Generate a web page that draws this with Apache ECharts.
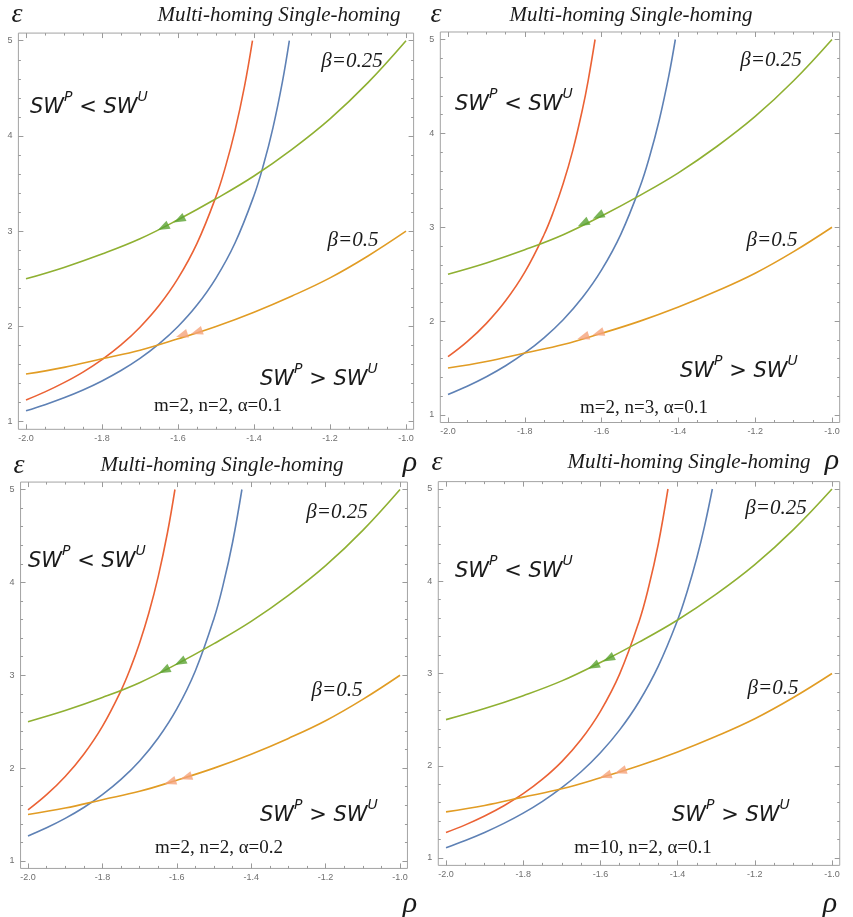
<!DOCTYPE html>
<html><head><meta charset="utf-8">
<script src="https://cdn.jsdelivr.net/npm/echarts@6/dist/echarts.min.js"></script>
<style>html,body{margin:0;padding:0;background:#fff}#c{width:853px;height:917px}</style>
</head><body><div id="c"></div>
<script>
// ---------------- data ----------------
const betaX    = [-2.0,-1.9,-1.8,-1.7,-1.6,-1.5,-1.4,-1.3,-1.2,-1.1,-1.0];
const beta025Y = [2.50,2.62,2.76,2.92,3.12,3.34,3.58,3.86,4.18,4.56,5.00];
const beta05Y  = [1.50,1.57,1.66,1.75,1.87,2.00,2.15,2.32,2.51,2.74,3.00];

// panel 1: m=2, n=2, alpha=0.1
const p1RedX  = [-2.0,-1.95,-1.9,-1.85,-1.8,-1.75,-1.7,-1.65,-1.6,-1.55,-1.5,-1.475,-1.45,-1.425,-1.404];
const p1RedY  = [1.228,1.313,1.410,1.521,1.652,1.806,1.992,2.219,2.504,2.872,3.364,3.678,4.056,4.520,5.000];
const p1BlueX = [-2.0,-1.95,-1.9,-1.85,-1.8,-1.75,-1.7,-1.65,-1.6,-1.55,-1.5,-1.45,-1.4,-1.375,-1.35,-1.325,-1.307];
const p1BlueY = [1.115,1.179,1.251,1.333,1.428,1.537,1.664,1.816,1.999,2.224,2.508,2.876,3.375,3.697,4.088,4.573,5.000];
const p1ArrGX = [-1.639,-1.597], p1ArrGY = [3.04,3.12];
const p1ArrOX = [-1.590,-1.551], p1ArrOY = [1.91,1.94];

// panel 2: m=2, n=3, alpha=0.1
const p2RedX  = [-2.0,-1.95,-1.9,-1.85,-1.8,-1.75,-1.725,-1.7,-1.675,-1.65,-1.635,-1.617];
const p2RedY  = [1.621,1.781,1.976,2.216,2.521,2.920,3.170,3.465,3.819,4.253,4.563,5.000];
const p2BlueX = [-2.0,-1.95,-1.9,-1.85,-1.8,-1.75,-1.7,-1.65,-1.6,-1.55,-1.5,-1.475,-1.45,-1.425,-1.408];
const p2BlueY = [1.219,1.307,1.408,1.525,1.661,1.822,2.015,2.251,2.546,2.925,3.431,3.753,4.140,4.613,5.000];
const p2ArrGX = [-1.648,-1.609], p2ArrGY = [3.04,3.12];
const p2ArrOX = [-1.648,-1.609], p2ArrOY = [1.83,1.87];

// panel 3: m=2, n=2, alpha=0.2
const p3RedX  = [-2.0,-1.95,-1.9,-1.85,-1.8,-1.75,-1.725,-1.7,-1.675,-1.65,-1.625,-1.605];
const p3RedY  = [1.550,1.714,1.910,2.150,2.450,2.835,3.071,3.347,3.672,4.062,4.537,5.000];
const p3BlueX = [-2.0,-1.95,-1.9,-1.85,-1.8,-1.75,-1.7,-1.65,-1.6,-1.55,-1.5,-1.475,-1.45,-1.425];
const p3BlueY = [1.270,1.358,1.459,1.576,1.714,1.878,2.077,2.324,2.637,3.049,3.612,3.981,4.432,5.000];
const p3ArrGX = [-1.634,-1.591], p3ArrGY = [3.05,3.14];
const p3ArrOX = [-1.618,-1.575], p3ArrOY = [1.85,1.90];

// panel 4: m=10, n=2, alpha=0.1
const p4RedX  = [-2.0,-1.95,-1.9,-1.85,-1.8,-1.75,-1.7,-1.65,-1.6,-1.55,-1.5,-1.475,-1.45,-1.425];
const p4RedY  = [1.277,1.359,1.455,1.566,1.697,1.854,2.045,2.284,2.590,2.996,3.562,3.937,4.404,5.000];
const p4BlueX = [-2.0,-1.95,-1.9,-1.85,-1.8,-1.75,-1.7,-1.65,-1.6,-1.55,-1.5,-1.45,-1.4,-1.375,-1.35,-1.33,-1.31];
const p4BlueY = [1.112,1.190,1.277,1.375,1.486,1.614,1.762,1.935,2.141,2.389,2.694,3.080,3.580,3.892,4.258,4.601,5.000];
const p4ArrGX = [-1.618,-1.579], p4ArrGY = [3.08,3.16];
const p4ArrOX = [-1.587,-1.548], p4ArrOY = [1.89,1.94];

const paramLabels = ['m=2, n=2, α=0.1','m=2, n=3, α=0.1','m=2, n=2, α=0.2','m=10, n=2, α=0.1'];
const headerText = 'Multi-homing Single-homing';
const beta1Label = 'β=0.25', beta2Label = 'β=0.5';
const xAxisName = 'ρ', yAxisName = 'ε';

// ---------------- layout ----------------
const panels = [
  {box:[26,406,40.7,421.7], red:[p1RedX,p1RedY], blue:[p1BlueX,p1BlueY], ag:[p1ArrGX,p1ArrGY], ao:[p1ArrOX,p1ArrOY],
   eps:[17,15], head:[279,15], b25:[352,61], b05:[353,240], lt:[30,104], gt:[260,376], par:[218,406], rho:[410,463]},
  {box:[448,832,39.5,415], red:[p2RedX,p2RedY], blue:[p2BlueX,p2BlueY], ag:[p2ArrGX,p2ArrGY], ao:[p2ArrOX,p2ArrOY],
   eps:[436,15], head:[631,15], b25:[771,60], b05:[772,240], lt:[455,101], gt:[680,368], par:[644,408], rho:[832,461]},
  {box:[28,400,489.5,861], red:[p3RedX,p3RedY], blue:[p3BlueX,p3BlueY], ag:[p3ArrGX,p3ArrGY], ao:[p3ArrOX,p3ArrOY],
   eps:[19,466], head:[222,465], b25:[337,512], b05:[337,690], lt:[28,558], gt:[260,812], par:[219,848], rho:[410,904]},
  {box:[446,832,489,858], red:[p4RedX,p4RedY], blue:[p4BlueX,p4BlueY], ag:[p4ArrGX,p4ArrGY], ao:[p4ArrOX,p4ArrOY],
   eps:[437,463], head:[689,462], b25:[776,508], b05:[773,688], lt:[455,568], gt:[672,812], par:[643,848], rho:[830,904]}
];

const C = {blue:'#5E81B5', orange:'#E19C24', green:'#8FB032', red:'#EB6235', arrG:'#5AA332', arrO:'#F5A27A',
  frame:'#a3a3a3', tick:'#9a9a9a', label:'#6f6f6f', text:'#1a1a1a'};

function pairs(xs, ys){ return xs.map((x,i)=>[x, ys[i]]); }

function xAx(g, pos, off, lab){
  return {type:'value', gridIndex:g, position:pos, offset:off, min:-2, max:-1, interval:0.2,
    axisLine:{show:false}, splitLine:{show:false},
    axisTick:{show:true, inside:true, length:5, lineStyle:{color:C.tick, width:1}},
    minorTick:{show:true, splitNumber:4, length:2.5, lineStyle:{color:C.tick, width:1}},
    axisLabel:{show:lab, formatter:v=>v.toFixed(1), fontSize:9, color:C.label, margin:5, fontFamily:'Liberation Sans'}};
}
function yAx(g, pos, off, lab){
  return {type:'value', gridIndex:g, position:pos, offset:off, min:1, max:5, interval:1,
    axisLine:{show:false}, splitLine:{show:false},
    axisTick:{show:true, inside:true, length:5, lineStyle:{color:C.tick, width:1}},
    minorTick:{show:true, splitNumber:5, length:2.5, lineStyle:{color:C.tick, width:1}},
    axisLabel:{show:lab, fontSize:9, color:C.label, margin:6, fontFamily:'Liberation Sans'}};
}

const option = {animation:false, backgroundColor:'#fff', grid:[], xAxis:[], yAxis:[], series:[], graphic:{elements:[]}};
const G = option.graphic.elements;
const serif = '"Liberation Serif", "DejaVu Serif", serif';

panels.forEach((p, i) => {
  const [x0,x1,y5,y1] = p.box;
  const padX = 0.02*(x1-x0), padY = 0.02*(y1-y5);
  const fg = option.grid.length;
  option.grid.push({left:x0-padX, top:y5-padY, width:(x1-x0)+2*padX, height:(y1-y5)+2*padY,
    show:true, borderColor:C.frame, borderWidth:1, backgroundColor:'rgba(0,0,0,0)'});
  option.xAxis.push({type:'value', gridIndex:fg, show:false, min:0, max:1});
  option.yAxis.push({type:'value', gridIndex:fg, show:false, min:0, max:1});
  const g = option.grid.length;
  option.grid.push({left:x0, top:y5, width:x1-x0, height:y1-y5, show:false});
  const xi = option.xAxis.length;
  option.xAxis.push(xAx(g,'bottom',padY,true));
  option.xAxis.push(xAx(g,'top',padY,false));
  const yi = option.yAxis.length;
  option.yAxis.push(yAx(g,'left',padX,true));
  option.yAxis.push(yAx(g,'right',padX,false));

  const line = (name, data, color) => ({type:'line', name, xAxisIndex:xi, yAxisIndex:yi, data, showSymbol:false,
    smooth:0.4, lineStyle:{color, width:1.6}, itemStyle:{color}, z:3});
  option.series.push(line('Multi-homing', pairs(p.red[0],p.red[1]), C.red));
  option.series.push(line('Single-homing', pairs(p.blue[0],p.blue[1]), C.blue));
  option.series.push(line('β=0.25', pairs(betaX,beta025Y), C.green));
  option.series.push(line('β=0.5', pairs(betaX,beta05Y), C.orange));
  option.series.push({type:'scatter', xAxisIndex:xi, yAxisIndex:yi, data:pairs(p.ag[0],p.ag[1]),
    symbol:'triangle', symbolSize:[9,12], symbolRotate:117, itemStyle:{color:C.arrG}, z:5, silent:true});
  option.series.push({type:'scatter', xAxisIndex:xi, yAxisIndex:yi, data:pairs(p.ao[0],p.ao[1]),
    symbol:'triangle', symbolSize:[9,12], symbolRotate:108, itemStyle:{color:C.arrO}, z:5, silent:true});

  const txt = (pt, text, font, align) => G.push({type:'text', x:pt[0], y:pt[1], silent:true, z:10,
    style:{text, font, fill:C.text, align:align||'center', verticalAlign:'middle'}});
  txt(p.eps, yAxisName, 'italic 28px '+serif);
  txt(p.rho, xAxisName, 'italic 30px '+serif);
  txt(p.head, headerText, 'italic 21px '+serif);
  txt(p.b25, beta1Label, 'italic 21px '+serif);
  txt(p.b05, beta2Label, 'italic 21px '+serif);
  txt(p.par, paramLabels[i], '19px '+serif);
  const sw = (pt, rel) => G.push({type:'text', x:pt[0], y:pt[1], silent:true, z:10,
    style:{text:'{a|SW}{s|P}{a| '+rel+' SW}{s|U}', align:'left', verticalAlign:'middle',
      rich:{a:{fontSize:21, fontStyle:'italic', fontFamily:'DejaVu Sans', fill:C.text, lineHeight:28, verticalAlign:'bottom'},
            s:{fontSize:14, fontStyle:'italic', fontFamily:'DejaVu Sans', fill:C.text, verticalAlign:'top'}}}});
  sw(p.lt, '<');
  sw(p.gt, '>');
});

const chart = echarts.init(document.getElementById('c'), null, {renderer:'canvas'});
chart.setOption(option);
</script>
</body></html>
